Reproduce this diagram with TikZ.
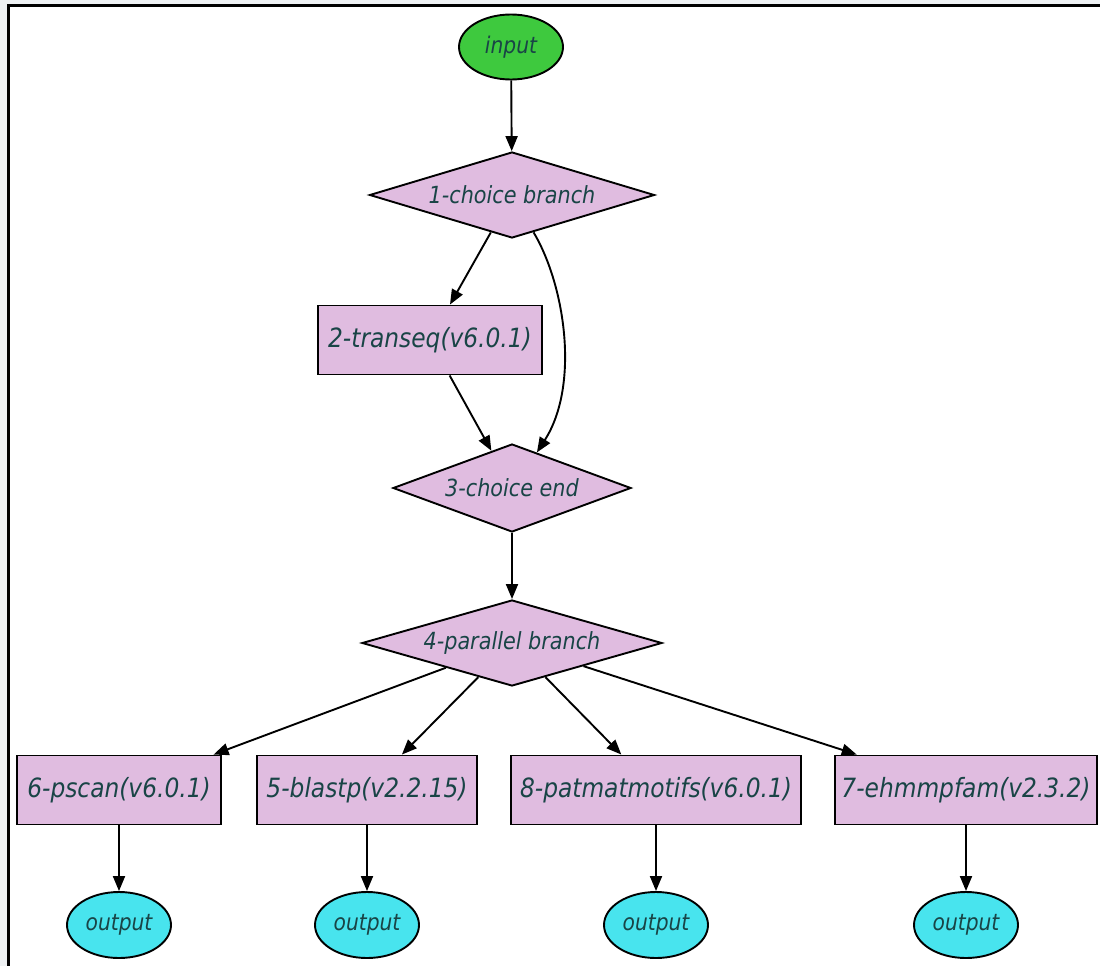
\documentclass[tikz,border=0pt]{standalone}
\usepackage{fontspec}
\setmainfont{DejaVu Sans}
\newfontfamily\narrowfont{DejaVu Sans}[FakeStretch=0.88]
\usetikzlibrary{shapes.geometric,arrows.meta}
\definecolor{txt}{RGB}{25,68,70}
\definecolor{lilac}{RGB}{224,188,224}
\definecolor{grn}{RGB}{62,201,62}
\definecolor{cyn}{RGB}{72,228,238}
\definecolor{bgray}{RGB}{238,241,243}
\tikzset{
  base/.style={draw=black, line width=1.9pt, inner sep=0pt, text=txt},
  oval/.style={base, ellipse, minimum width=104pt, minimum height=65pt, font=\narrowfont\fontsize{23}{26}\selectfont\itshape},
  dia/.style={base, diamond, aspect=3.3, fill=lilac, font=\narrowfont\fontsize{23.6}{26}\selectfont\itshape},
  tool/.style={base, rectangle, fill=lilac, minimum height=69pt, font=\narrowfont\fontsize{26.5}{30}\selectfont\itshape},
  arr/.style={line width=1.9pt, -{Triangle[length=15pt,width=12pt]}},
}
\begin{document}
\begin{tikzpicture}[x=1pt,y=-1pt]
\useasboundingbox (0,0) rectangle (1100,966);
\fill[bgray] (0,0) rectangle (1100,966);
\fill[white] (8.5,5.5) rectangle (1100,966);
\draw[line width=2.6pt, black] (8.5,966) -- (8.5,5.5) -- (1100,5.5);

\node[oval, fill=grn] (in) at (511,47) {input};
\node[dia, minimum width=285pt, minimum height=86pt] (d1) at (512,195) {1-choice branch};
\node[tool, minimum width=224pt] (b2) at (430,340) {2-transeq(v6.0.1)};
\node[dia, minimum width=238pt, minimum height=88pt] (d3) at (512,488) {3-choice end};
\node[dia, minimum width=300pt, minimum height=86pt] (d4) at (512,643) {4-parallel branch};

\node[tool, minimum width=204pt] (b6) at (119,790) {6-pscan(v6.0.1)};
\node[tool, minimum width=220pt] (b5) at (367,790) {5-blastp(v2.2.15)};
\node[tool, minimum width=290pt] (b8) at (656,790) {8-patmatmotifs(v6.0.1)};
\node[tool, minimum width=262pt] (b7) at (966,790) {7-ehmmpfam(v2.3.2)};

\node[oval, fill=cyn, minimum height=66pt] (o6) at (119,925) {output};
\node[oval, fill=cyn, minimum height=66pt] (o5) at (367,925) {output};
\node[oval, fill=cyn, minimum height=66pt] (o8) at (656,925) {output};
\node[oval, fill=cyn, minimum height=66pt] (o7) at (966,925) {output};

\draw[arr] (in) -- (d1);
\draw[arr] (d1) -- (b2);
\draw[arr] (d1.-60) .. controls (565,285) and (580,385) .. (d3.55);
\draw[arr] (b2) -- (d3);
\draw[arr] (d3) -- (d4);
\draw[arr] (d4) -- (b6);
\draw[arr] (d4) -- (b5);
\draw[arr] (d4) -- (b8);
\draw[arr] (d4) -- (b7);
\draw[arr] (b6) -- (o6);
\draw[arr] (b5) -- (o5);
\draw[arr] (b8) -- (o8);
\draw[arr] (b7) -- (o7);
\end{tikzpicture}
\end{document}
